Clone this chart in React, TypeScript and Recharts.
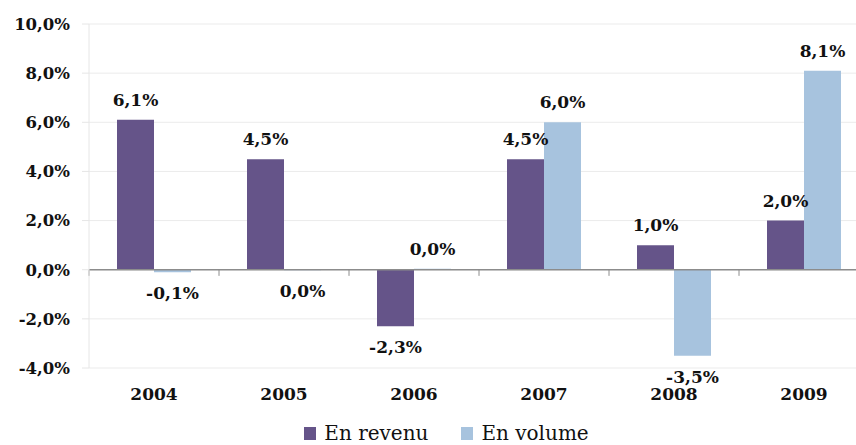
import {
  BarChart,
  Bar,
  XAxis,
  YAxis,
  CartesianGrid,
  ReferenceLine,
  Legend,
  LabelList,
} from 'recharts'

const years = ['2004', '2005', '2006', '2007', '2008', '2009']
const revenu = [6.1, 4.5, -2.3, 4.5, 1.0, 2.0]
const volume = [-0.1, -0.02, 0.04, 6.0, -3.5, 8.1]
const yTicks = [-4, -2, 0, 2, 4, 6, 8, 10]

const data = years.map((year, i) => ({ year, revenu: revenu[i], volume: volume[i] }))

const FONT = '"DejaVu Serif", serif'
const PURPLE = '#655489'
const BLUE = '#a7c3de'

const pct = (v: number) => (Math.abs(v) < 0.05 ? 0 : v).toFixed(1).replace('.', ',') + '%'

function BarLabel(props: any) {
  const { x, y, width, height, value } = props
  const top = Math.min(y, y + height)
  const bottom = Math.max(y, y + height)
  const cx = x + width / 2
  const ty = value >= 0 ? top - 14 : bottom + 27
  return (
    <text x={cx} y={ty} textAnchor="middle" fontFamily={FONT} fontSize={17} fontWeight="bold" fill="#111">
      {pct(value)}
    </text>
  )
}

function LegendBox() {
  const item = (color: string, label: string, gap: number) => (
    <span style={{ display: 'inline-flex', alignItems: 'center', marginRight: gap }}>
      <span style={{ width: 12, height: 13, background: color, display: 'inline-block', marginRight: 8 }} />
      <span style={{ fontFamily: FONT, fontSize: 20, lineHeight: '20px', color: '#111' }}>{label}</span>
    </span>
  )
  return (
    <div
      style={{
        height: 37,
        boxSizing: 'border-box',
        paddingLeft: 24,
        paddingBottom: 2,
        display: 'flex',
        justifyContent: 'center',
        alignItems: 'flex-end',
      }}
    >
      {item(PURPLE, 'En revenu', 33)}
      {item(BLUE, 'En volume', 0)}
    </div>
  )
}

export default function App() {
  return (
    <div
      style={{
        position: 'absolute',
        left: 0,
        top: 0,
        width: 856,
        height: 445,
        overflow: 'hidden',
        background: '#fff',
      }}
    >
      <BarChart
        width={870}
        height={445}
        data={data}
        margin={{ top: 24, right: 1, bottom: 0, left: 0 }}
        barGap={0}
      >
        <CartesianGrid vertical={false} stroke="#ebebeb" />
        <XAxis
          dataKey="year"
          axisLine={false}
          tickLine={false}
          tickSize={6}
          tickMargin={14}
          height={40}
          tick={{ fontFamily: FONT, fontSize: 17, fontWeight: 'bold', fill: '#111' }}
        />
        <YAxis
          domain={[-4, 10]}
          ticks={yTicks}
          width={89}
          interval={0}
          axisLine={{ stroke: '#e6e6e6' }}
          tickLine={{ stroke: '#e6e6e6' }}
          tickSize={7}
          tickMargin={12}
          tickFormatter={(v: number) => v.toFixed(1).replace('.', ',') + '%'}
          tick={{ fontFamily: FONT, fontSize: 16.5, fontWeight: 'bold', fill: '#111' }}
        />
        <Legend
          verticalAlign="bottom"
          wrapperStyle={{ bottom: 0, overflow: 'visible' }}
          content={() => <LegendBox />}
        />
        <Bar dataKey="revenu" fill={PURPLE} barSize={37} isAnimationActive={false}>
          <LabelList dataKey="revenu" content={BarLabel} />
        </Bar>
        <Bar dataKey="volume" fill={BLUE} barSize={37} isAnimationActive={false}>
          <LabelList dataKey="volume" content={BarLabel} />
        </Bar>
        <ReferenceLine y={0} stroke="#8c8c8c" strokeWidth={1.5} />
        {years.map((yr) => (
          <ReferenceLine
            key={yr}
            segment={[
              { x: yr, y: 0 },
              { x: yr, y: -0.25 },
            ]}
            position="start"
            stroke="#8c8c8c"
          />
        ))}
      </BarChart>
    </div>
  )
}
